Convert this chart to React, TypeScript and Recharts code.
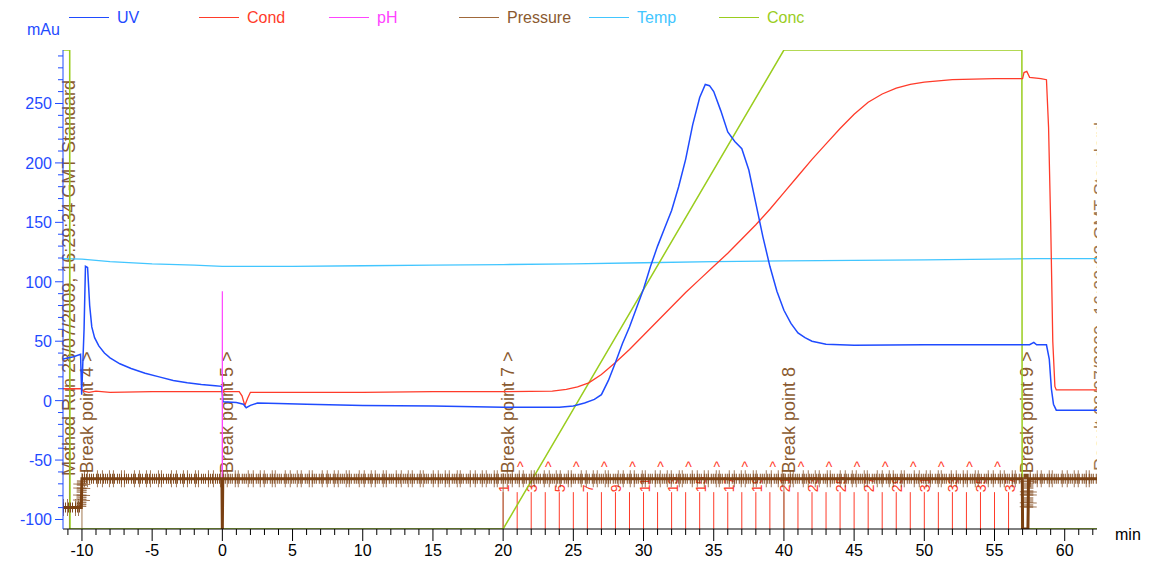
import {
  LineChart,
  Line,
  XAxis,
  YAxis,
  ReferenceLine,
  Legend,
} from "recharts";

const FONT = "'Liberation Sans', Arial, sans-serif";

const UV_COLOR = "#1f4bff";
const COND_COLOR = "#ff3b2a";
const PH_COLOR = "#ff44ff";
const PRES_COLOR = "#7a4012";
const PRES_LEGEND = "#a0683a";
const TEMP_COLOR = "#42c6ff";
const CONC_COLOR = "#9acd1e";
const EVENT_COLOR = "#8a5a30";
const BREAK_LINE = "#a07850";
const FRAC_COLOR = "#ff3b2a";

// [min, mAu]
const uvSeries: [number, number][] = [
  [-11.35, 35], [-10.6, 37], [-10.1, 39], [-10.02, 5], [-9.85, 60], [-9.75, 113],
  [-9.6, 112], [-9.45, 80], [-9.3, 62], [-9.1, 53], [-8.8, 46], [-8.4, 40],
  [-8.0, 36], [-7.3, 31], [-6.5, 27], [-5.5, 23], [-4.5, 20], [-3.5, 17],
  [-2.5, 15], [-1.5, 13.5], [-0.5, 12.5], [-0.05, 12], [0.05, -1], [1.0, -1.5],
  [1.5, -3], [1.7, -6], [2.0, -4], [2.5, -2], [4, -2.5], [6, -3], [10, -4],
  [15, -4.5], [20, -5.5], [24, -5.5], [25, -4.5], [25.8, -2], [26.5, 1],
  [27, 5], [27.5, 17], [28, 32], [28.5, 48], [29, 62], [29.5, 78], [30, 94],
  [30.5, 113], [31, 130], [31.5, 145], [32, 160], [32.5, 180], [33, 203],
  [33.5, 232], [34, 255], [34.4, 266], [34.7, 265], [35, 260], [35.5, 244],
  [36, 226], [36.5, 218], [37, 212], [37.5, 194], [38, 166], [38.5, 138],
  [39, 113], [39.5, 92], [40, 76], [40.5, 65], [41, 57], [41.5, 53], [42, 50],
  [43, 47.5], [45, 46.5], [50, 47], [55, 47], [57.5, 47], [57.8, 49], [58.0, 47],
  [58.7, 47], [58.9, 35], [59.05, 10], [59.2, -3], [59.4, -8], [62.3, -8],
];

// [min, display units]
const condSeries: [number, number][] = [
  [-11.35, 10], [-10.05, 10], [-9.9, 8], [-9.5, 7], [-9, 8], [-8, 7], [-5, 7.5],
  [0, 7.5], [1.2, 7.5], [1.4, 4], [1.6, -4], [1.8, 2], [2.0, 7], [5, 7], [10, 7],
  [15, 7.5], [20, 7.5], [23.5, 8], [24.5, 9.5], [25.3, 11.5], [26.1, 15],
  [27, 22], [28, 32], [29, 43], [30, 55], [31, 67], [32, 79], [33, 91],
  [34, 102], [35, 113], [36, 124], [37, 136], [38, 148], [39, 161], [40, 175],
  [41, 189], [42, 203], [43, 216], [44, 229], [45, 241], [46, 251], [47, 258],
  [48, 263], [49, 266], [50, 268], [52, 270], [55, 271], [57, 271], [57.1, 276],
  [57.3, 277], [57.5, 272], [58.3, 271], [58.7, 270], [58.85, 230], [59.0, 150],
  [59.15, 50], [59.3, 12], [59.4, 9], [62.3, 9],
];

const tempSeries: [number, number][] = [
  [-11.35, 119.5], [-10, 119], [-8, 117], [-5, 115], [-2, 114], [0, 113],
  [5, 113], [10, 113.5], [15, 114], [20, 114.5], [25, 115], [30, 116],
  [35, 117], [40, 117.5], [45, 118], [50, 118.5], [55, 119], [58, 119.5],
  [62.3, 119.5],
];

const phSeries: [number, number][] = [
  [-0.01, -140], [0, 92], [0.01, -140],
];

// [min, %B]
const concSeries: [number, number][] = [
  [-11.35, 100], [-10.87, 100], [-10.85, 0], [20, 0], [40, 100], [56.95, 100],
  [56.97, 0], [62.3, 0],
];

// [min, MPa]
const pressureSeries: [number, number][] = [
  [-11.35, 0.045], [-10.05, 0.045], [-10.0, 0.105], [-0.03, 0.105], [0, 0],
  [0.03, 0.105], [56.98, 0.105], [57.0, 0], [57.38, 0], [57.4, 0.045],
  [57.42, 0.105], [62.3, 0.105],
];

const breakPoints: { t: number; label: string }[] = [
  { t: -10.0, label: "Break point 4 >" },
  { t: 0.0, label: "Break point 5 >" },
  { t: 20.0, label: "Break point 7 >" },
  { t: 40.0, label: "Break point 8" },
  { t: 56.95, label: "Break point 9 >" },
];

// fraction n starts at minute 19 + n
const fractionTimes = [
  20, 21, 22, 23, 24, 25, 26, 27, 28, 29, 30, 31, 32, 33, 34, 35, 36, 37, 38,
  39, 40, 41, 42, 43, 44, 45, 46, 47, 48, 49, 50, 51, 52, 53, 54, 55, 56,
];

const methodRun = { t: -10.89, label: "Method Run 28/07/2009, 16:29:34 GMT Standard" };
const resultText = "Result 28/07/2009, 16:30:02 GMT Standard";

const legendItems = [
  { name: "UV", line: UV_COLOR, text: UV_COLOR },
  { name: "Cond", line: COND_COLOR, text: COND_COLOR },
  { name: "pH", line: PH_COLOR, text: PH_COLOR },
  { name: "Pressure", line: PRES_LEGEND, text: EVENT_COLOR },
  { name: "Temp", line: TEMP_COLOR, text: TEMP_COLOR },
  { name: "Conc", line: CONC_COLOR, text: CONC_COLOR },
];

const uvTicks = Array.from({ length: 40 }, (_, i) => -100 + i * 10);
const timeTicks = Array.from({ length: 74 }, (_, i) => -11 + i);

const toPoints = (s: [number, number][]) => s.map(([t, v]) => ({ t, v }));

const pressureRipple = pressureSeries.map(([t, v]) => ({ t, v: v > 0.02 ? v : null }));

function UvTick(props: any) {
  const { x, y, payload } = props;
  const major = payload.value % 50 === 0;
  return (
    <g>
      <line x1={x - (major ? 8 : 5)} x2={x} y1={y} y2={y} stroke={UV_COLOR} />
      {major && (
        <text x={x - 11} y={y + 6} textAnchor="end" fill={UV_COLOR} fontSize={16} fontFamily={FONT}>
          {payload.value}
        </text>
      )}
    </g>
  );
}

function TimeTick(props: any) {
  const { x, y, payload } = props;
  const major = payload.value % 5 === 0;
  return (
    <g>
      <line x1={x} x2={x} y1={y} y2={y + (major ? 12 : 6)} stroke="#000" />
      {major && (
        <text x={x} y={y + 27} textAnchor="middle" fill="#000" fontSize={16} fontFamily={FONT}>
          {payload.value}
        </text>
      )}
    </g>
  );
}

const rotatedText = (x: number, y: number, text: string, color: string, size: number) => (
  <text
    transform={`translate(${x},${y}) rotate(-90)`}
    fill={color}
    fontSize={size}
    fontFamily={FONT}
  >
    {text}
  </text>
);

const renderLegend = () => (
  <div style={{ position: "relative", height: 0, fontFamily: FONT, fontSize: 16 }}>
    <span style={{ position: "absolute", left: 27, top: 21, color: UV_COLOR }}>mAu</span>
    {legendItems.map((it, i) => (
      <div key={it.name} style={{ position: "absolute", left: 69 + i * 130, top: 8, whiteSpace: "nowrap" }}>
        <span
          style={{
            display: "inline-block",
            width: 40,
            height: 1,
            background: it.line,
            verticalAlign: "middle",
            marginRight: 8,
          }}
        />
        <span style={{ color: it.text, verticalAlign: "middle" }}>{it.name}</span>
      </div>
    ))}
  </div>
);

export default function App() {
  return (
    <div style={{ position: "absolute", left: 0, top: 0, background: "#fff" }}>
      <LineChart width={1154} height={563} margin={{ top: 50, right: 57, bottom: 6, left: 0 }}>
        <XAxis
          type="number"
          dataKey="t"
          domain={[-11.35, 62.3]}
          ticks={timeTicks}
          interval={0}
          allowDataOverflow
          tick={<TimeTick />}
          tickSize={0}
          tickMargin={0}
          tickLine={false}
          height={28}
          stroke="#000"
          label={(p: any) => (
            <text
              x={p.viewBox.x + p.viewBox.width + 18}
              y={p.viewBox.y + 11}
              fill="#000"
              fontSize={16}
              fontFamily={FONT}
            >
              min
            </text>
          )}
        />
        <YAxis
          yAxisId="uv"
          type="number"
          domain={[-108, 295]}
          ticks={uvTicks}
          interval={0}
          allowDataOverflow
          tick={<UvTick />}
          tickSize={0}
          tickMargin={0}
          tickLine={false}
          width={63}
          stroke={UV_COLOR}
        />
        <YAxis yAxisId="conc" orientation="right" width={0} type="number" domain={[0, 100]} hide allowDataOverflow />
        <YAxis yAxisId="pres" orientation="right" width={0} type="number" domain={[0, 1]} hide allowDataOverflow />

        <Legend content={renderLegend} wrapperStyle={{ top: 0, left: 0, width: 1154 }} />

        {/* method run event */}
        <ReferenceLine
          yAxisId="uv"
          x={methodRun.t}
          stroke={EVENT_COLOR}
          label={(p: any) => rotatedText(p.viewBox.x + 6, p.viewBox.y + p.viewBox.height - 53, methodRun.label, EVENT_COLOR, 18)}
        />

        {/* partly hidden text at the right edge */}
        <ReferenceLine
          yAxisId="uv"
          x={62.3}
          stroke="none"
          label={(p: any) => (
            <g>
              <defs>
                <clipPath id="rightEdgeClip">
                  <rect x={p.viewBox.x - 4} y={p.viewBox.y} width={4} height={p.viewBox.height} />
                </clipPath>
              </defs>
              <g clipPath="url(#rightEdgeClip)">
                {rotatedText(p.viewBox.x + 10, p.viewBox.y + p.viewBox.height - 58, resultText, BREAK_LINE, 18)}
              </g>
            </g>
          )}
        />

        {/* fractions */}
        {fractionTimes.map((t, i) => (
          <ReferenceLine
            key={`frac-${t}`}
            yAxisId="uv"
            segment={[{ x: t, y: -77 }, { x: t, y: -108 }]}
            stroke={FRAC_COLOR}
            label={(p: any) =>
              (i + 1) % 2 === 1 ? (
                rotatedText(p.viewBox.x + 6, p.viewBox.y, String(i + 1), FRAC_COLOR, 14)
              ) : (
                <text
                  x={p.viewBox.x + 3}
                  y={p.viewBox.y - 20}
                  textAnchor="middle"
                  fill={FRAC_COLOR}
                  fontSize={14}
                  fontFamily={FONT}
                >
                  ^
                </text>
              )
            }
          />
        ))}

        {/* break points */}
        {breakPoints.map((b) => (
          <ReferenceLine
            key={b.label}
            yAxisId="uv"
            segment={[{ x: b.t, y: -61 }, { x: b.t, y: -108 }]}
            stroke={BREAK_LINE}
            label={(p: any) => rotatedText(p.viewBox.x + 11, p.viewBox.y, b.label, EVENT_COLOR, 18)}
          />
        ))}

        <Line yAxisId="uv" data={toPoints(tempSeries)} dataKey="v" stroke={TEMP_COLOR} strokeWidth={1.3} dot={false} isAnimationActive={false} />
        <Line yAxisId="conc" data={toPoints(concSeries)} dataKey="v" stroke={CONC_COLOR} strokeWidth={1.5} dot={false} isAnimationActive={false} />
        <Line yAxisId="uv" data={toPoints(condSeries)} dataKey="v" stroke={COND_COLOR} strokeWidth={1.3} dot={false} isAnimationActive={false} />
        <Line yAxisId="uv" data={toPoints(uvSeries)} dataKey="v" stroke={UV_COLOR} strokeWidth={1.5} dot={false} isAnimationActive={false} />
        <Line yAxisId="uv" data={toPoints(phSeries)} dataKey="v" stroke={PH_COLOR} strokeWidth={1.2} dot={false} isAnimationActive={false} />
        {/* pressure: jagged ripple drawn as textured strokes around the trace */}
        <Line yAxisId="pres" data={pressureRipple} dataKey="v" stroke={PRES_COLOR} strokeWidth={17} strokeDasharray="1 3 1 7 1 2 1 9 1 4 1 6" strokeOpacity={0.7} dot={false} isAnimationActive={false} />
        <Line yAxisId="pres" data={pressureRipple} dataKey="v" stroke={PRES_COLOR} strokeWidth={10} strokeDasharray="1 1 1 2 1 1" strokeOpacity={0.95} dot={false} isAnimationActive={false} />
        <Line yAxisId="pres" data={toPoints(pressureSeries)} dataKey="v" stroke={PRES_COLOR} strokeWidth={3} dot={false} isAnimationActive={false} />
      </LineChart>
    </div>
  );
}
